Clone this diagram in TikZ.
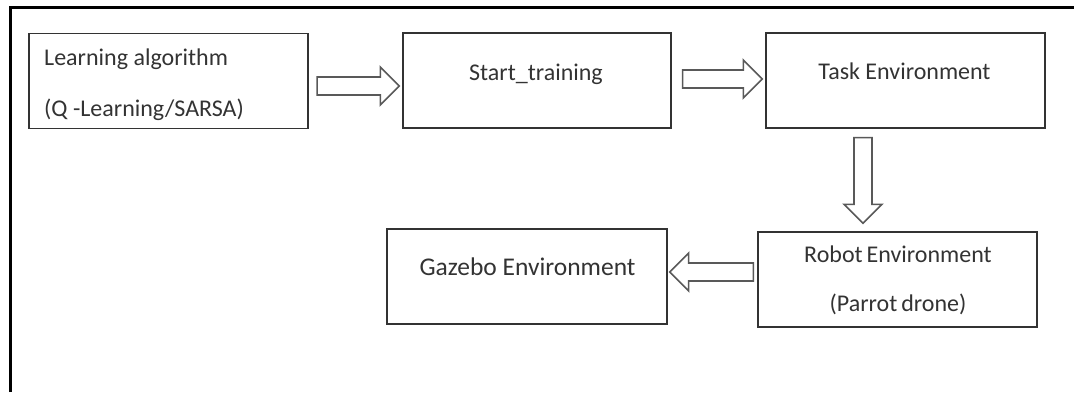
\documentclass[tikz,border=0pt]{standalone}
\usepackage{fontspec}
\setmainfont{Carlito}
\usetikzlibrary{calc}

\tikzset{
  box/.style={draw=black!80, line width=1.3pt, minimum width=279, minimum height=95, inner sep=0pt},
  txt/.style={text=black!80, font=\fontsize{24}{28}\selectfont, inner sep=0pt, anchor=base},
  fatarrow/.style={draw=black!65, fill=white, line width=1.6pt, line join=miter},
}

% block arrow from tail #1 to tip #2
\newcommand{\fatarrow}[2]{%
  \coordinate (fa-t) at (#1);
  \coordinate (fa-p) at (#2);
  \coordinate (fa-b) at ($(fa-p)!19pt!(fa-t)$);
  \draw[fatarrow] ($(fa-t)!9pt!90:(fa-p)$) -- ($(fa-b)!9pt!-90:(fa-t)$) -- ($(fa-b)!19pt!-90:(fa-t)$)
    -- (fa-p) -- ($(fa-b)!19pt!90:(fa-t)$) -- ($(fa-b)!9pt!90:(fa-t)$) -- ($(fa-t)!9pt!-90:(fa-p)$) -- cycle;
}

\begin{document}
\begin{tikzpicture}[x=1pt, y=-1pt]
\useasboundingbox (0,0) rectangle (1074,392);
\draw [line width=2.7pt] (10.7,392) -- (10.7,7.3) -- (1074,7.3);

% boxes
\node [box] (learn) at (168.5,81) {};
\node [box, minimum width=268] (start) at (537,80.5) {};
\node [box] (task) at (905.5,80.5) {};
\node [box] (robot) at (897.5,279.5) {};
\node [box, minimum width=280] (gazebo) at (527,276.5) {};

% texts
\node [txt, anchor=base west] (learna) at (44,65) {Learning algorithm};
\node [txt, anchor=base west] (learnb) at (44,116.5) {(Q -Learning/SARSA)};
\node [txt] (startt) at (536,80) {Start\_training};
\node [txt] (taskt) at (904.5,79.5) {Task Environment};
\node [txt] (robota) at (898,262.3) {Robot\,Environment};
\node [txt] (robotb) at (898,311.7) {(Parrot\,drone)};
\node [txt, font=\fontsize{25.5}{30}\selectfont] (gazebot) at (527.5,275) {Gazebo Environment};

% arrows
\fatarrow{$(learn.east)+(8.5,5)$}{$(start.west)+(-3,5.5)$}
\fatarrow{$(start.east)+(11,-1.5)$}{$(task.west)+(-3,-1.5)$}
\fatarrow{$(task.south)+(-42.5,9)$}{$(robot.north)+(-34.5,-8)$}
\fatarrow{$(robot.west)+(-4,-7.5)$}{$(gazebo.east)+(2,-4.5)$}
\end{tikzpicture}
\end{document}
